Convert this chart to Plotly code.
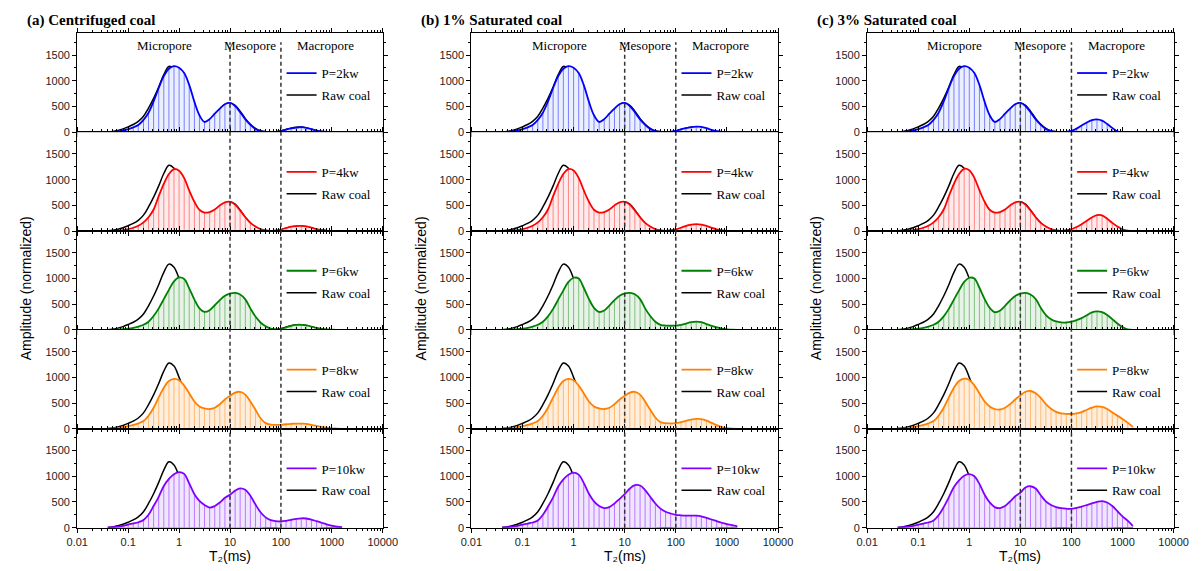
import math
import plotly.graph_objects as go

# ---------------- data ----------------
T2_MS = [0.0398, 0.0501, 0.0631, 0.0794, 0.1, 0.126, 0.158, 0.2, 0.251, 0.316,
         0.398, 0.501, 0.631, 0.794, 1.0, 1.26, 1.58, 2.0, 2.51, 3.16,
         3.98, 5.01, 6.31, 7.94, 10.0, 12.6, 15.8, 20.0, 25.1, 31.6,
         39.8, 50.1, 63.1, 79.4, 100, 126, 158, 200, 251, 316,
         398, 501, 631, 794, 1000, 1260, 1585]

RAW_COAL = [5, 15, 35, 65, 105, 150, 210, 310, 470, 660,
            880, 1120, 1280, 1220, 1000, 740, 480, 300, 210, 190,
            240, 340, 450, 540, 570, 525, 410, 265, 155, 75,
            28, 12, 8, 10, 25, 55, 80, 95, 100, 85,
            60, 30, 15, 6, 2, 0, 0]

# (a) Centrifuged coal
A_2KW = [3, 8, 18, 35, 60, 95, 140, 240, 380, 600,
         860, 1090, 1235, 1285, 1255, 1150, 920, 590, 330, 200,
         255, 360, 460, 545, 570, 510, 390, 250, 145, 64,
         22, 5, 2, 6, 25, 50, 75, 90, 98, 85,
         60, 30, 15, 6, 2, 1, 0]
A_4KW = [2, 5, 10, 20, 38, 65, 105, 170, 270, 420,
         680, 920, 1110, 1205, 1175, 1030, 790, 570, 415, 360,
         370, 420, 500, 560, 570, 515, 400, 270, 160, 90,
         40, 12, 3, 8, 30, 60, 85, 98, 102, 90,
         68, 40, 22, 10, 4, 1, 0]
A_6KW = [2, 4, 8, 14, 24, 40, 65, 100, 160, 270,
         420, 600, 780, 945, 1020, 990, 810, 590, 420, 350,
         385, 480, 580, 665, 705, 720, 690, 595, 420, 260,
         145, 70, 25, 10, 18, 50, 80, 98, 100, 88,
         65, 40, 22, 12, 5, 2, 0]
A_8KW = [3, 8, 15, 30, 50, 75, 105, 150, 255, 410,
         610, 800, 930, 972, 945, 840, 690, 530, 435, 395,
         385, 410, 480, 570, 640, 705, 718, 665, 530, 370,
         205, 110, 80, 75, 78, 88, 96, 102, 100, 94,
         75, 55, 38, 22, 10, 4, 0]
A_10KW = [3, 8, 18, 35, 60, 82, 105, 150, 250, 420,
          600, 810, 950, 1040, 1080, 1045, 860, 650, 520, 440,
          390, 420, 490, 580, 640, 720, 765, 735, 620, 450,
          300, 200, 145, 125, 120, 132, 150, 172, 182, 178,
          158, 125, 95, 62, 40, 20, 8]

# (b) 1% Saturated coal
B_2KW = [3, 8, 18, 35, 60, 95, 140, 240, 380, 600,
         860, 1090, 1235, 1285, 1255, 1150, 920, 590, 330, 200,
         255, 360, 460, 545, 570, 510, 390, 250, 145, 64,
         22, 5, 2, 6, 25, 55, 80, 100, 110, 105,
         80, 45, 20, 8, 3, 1, 0]
B_4KW = [2, 5, 10, 20, 38, 65, 105, 170, 270, 420,
         680, 920, 1110, 1205, 1180, 1035, 795, 570, 415, 360,
         370, 420, 500, 560, 570, 515, 400, 270, 160, 90,
         40, 12, 5, 15, 35, 65, 100, 125, 135, 125,
         100, 65, 35, 15, 5, 2, 0]
B_6KW = [2, 4, 8, 14, 24, 40, 65, 100, 160, 265,
         410, 590, 770, 935, 1015, 1000, 820, 600, 430, 350,
         380, 475, 580, 665, 710, 722, 695, 600, 420, 270,
         160, 100, 85, 82, 85, 100, 125, 150, 160, 150,
         115, 80, 50, 25, 12, 4, 0]
B_8KW = [3, 8, 15, 30, 50, 75, 105, 150, 255, 410,
         610, 800, 930, 972, 945, 840, 690, 530, 435, 395,
         385, 410, 480, 570, 640, 705, 718, 665, 530, 370,
         220, 130, 110, 105, 110, 130, 155, 180, 192, 188,
         160, 115, 70, 35, 12, 3, 0]
B_10KW = [3, 8, 18, 35, 60, 80, 100, 140, 250, 410,
          590, 800, 940, 1030, 1070, 1030, 870, 660, 510, 420,
          380, 400, 470, 560, 650, 760, 825, 820, 730, 600,
          470, 370, 310, 275, 250, 240, 233, 232, 232, 220,
          190, 158, 125, 95, 70, 48, 28]

# (c) 3% Saturated coal
C_2KW = [3, 8, 18, 35, 60, 95, 140, 240, 380, 600,
         860, 1090, 1235, 1285, 1255, 1150, 920, 590, 330, 200,
         255, 360, 460, 545, 570, 510, 390, 250, 145, 64,
         22, 5, 2, 6, 25, 70, 130, 190, 235, 250,
         225, 160, 85, 20, 3, 0, 0]
C_4KW = [2, 5, 10, 20, 38, 65, 105, 170, 270, 420,
         680, 920, 1110, 1210, 1185, 1035, 795, 570, 415, 360,
         370, 420, 500, 560, 570, 515, 400, 270, 160, 90,
         40, 12, 4, 12, 38, 80, 135, 200, 265, 310,
         305, 240, 160, 90, 35, 8, 0]
C_6KW = [2, 4, 8, 14, 24, 40, 65, 100, 160, 265,
         410, 590, 770, 935, 1015, 1000, 820, 600, 430, 345,
         375, 470, 575, 660, 705, 722, 690, 600, 430, 290,
         210, 165, 148, 145, 160, 190, 230, 285, 340, 362,
         345, 290, 210, 125, 55, 10, 0]
C_8KW = [3, 8, 15, 30, 50, 75, 105, 150, 255, 410,
         610, 800, 930, 975, 950, 845, 690, 530, 435, 385,
         375, 410, 480, 570, 650, 720, 735, 690, 600, 480,
         390, 330, 300, 290, 288, 300, 325, 370, 410, 435,
         425, 385, 320, 256, 190, 120, 40]
C_10KW = [3, 8, 18, 35, 58, 80, 100, 140, 240, 400,
          590, 790, 920, 1010, 1040, 1000, 850, 640, 490, 400,
          380, 420, 510, 610, 680, 780, 805, 760, 630, 510,
          440, 400, 378, 368, 365, 385, 410, 440, 470, 500,
          517, 490, 420, 320, 220, 135, 35]

SERIES_NAMES = ["P=2kw", "P=4kw", "P=6kw", "P=8kw", "P=10kw"]
COLUMN_TITLES = ["(a) Centrifuged coal", "(b) 1% Saturated coal", "(c) 3% Saturated coal"]
COLUMN_DATA = [[A_2KW, A_4KW, A_6KW, A_8KW, A_10KW],
               [B_2KW, B_4KW, B_6KW, B_8KW, B_10KW],
               [C_2KW, C_4KW, C_6KW, C_8KW, C_10KW]]
PORE_LABELS = ["Micropore", "Mesopore", "Macropore"]
PORE_LABEL_X = [0.52, 24.4, 760]
PORE_BOUNDS = [10, 100]
X_TICKS = [0.01, 0.1, 1, 10, 100, 1000, 10000]
X_TICK_TEXT = ["0.01", "0.1", "1", "10", "100", "1000", "10000"]
Y_TICKS = [0, 500, 1000, 1500]

# ---------------- styles ----------------
LINE_COLORS = ["#0000FF", "#FF0000", "#008000", "#FF8000", "#8000FF"]
FILL_COLORS = ["#EBF0FF", "#FFEBEB", "#E6F3E6", "#FFEEDC", "#F1E6FF"]
STEM_COLORS = ["rgba(0,0,255,0.6)", "rgba(255,0,0,0.55)", "rgba(0,128,0,0.55)",
               "rgba(255,128,0,0.6)", "rgba(128,0,255,0.6)"]

W, H = 1203, 571
COL_L = [67.7, 470.5, 875.0]
COL_R = [380.0, 784.0, 1188.3]
ROW_TOP = [33.7, 133.6, 233.5, 333.4, 433.3]
ROW_H = 99.95
Y_MAX = 1923
SANS = "Liberation Sans, Arial, sans-serif"
SERIF = "Liberation Serif, Times New Roman, serif"

minor_x = [m * 10 ** e for e in range(-2, 4) for m in range(2, 10)]

fig = go.Figure()
layout = {}
annotations = []
shapes = []

for c in range(3):
    for r in range(5):
        k = c * 5 + r + 1
        xr = "x" if k == 1 else f"x{k}"
        yr = "y" if k == 1 else f"y{k}"
        lg = "legend" if k == 1 else f"legend{k}"
        vals = COLUMN_DATA[c][r]

        fig.add_trace(go.Scatter(x=T2_MS, y=RAW_COAL, mode="lines", name="Raw coal",
                                 line=dict(color="black", width=1.5, shape="spline", smoothing=1.0),
                                 xaxis=xr, yaxis=yr, legend=lg, legendrank=2,
                                 legendgroup=f"raw{k}"))
        fig.add_trace(go.Scatter(x=T2_MS, y=vals, mode="lines", fill="tozeroy",
                                 fillcolor=FILL_COLORS[r],
                                 line=dict(width=0, shape="spline", smoothing=1.0),
                                 xaxis=xr, yaxis=yr, showlegend=False, hoverinfo="skip"))
        sx, sy = [], []
        for t, v in zip(T2_MS, vals):
            sx += [t, t, None]
            sy += [0, v, None]
        sx += [T2_MS[0], T2_MS[-1]]
        sy += [0, 0]
        fig.add_trace(go.Scatter(x=sx, y=sy, mode="lines",
                                 line=dict(color=STEM_COLORS[r], width=0.8),
                                 xaxis=xr, yaxis=yr, showlegend=False, hoverinfo="skip"))
        fig.add_trace(go.Scatter(x=T2_MS, y=vals, mode="lines", name=SERIES_NAMES[r],
                                 line=dict(color=LINE_COLORS[r], width=1.8, shape="spline", smoothing=1.0),
                                 xaxis=xr, yaxis=yr, legend=lg, legendrank=1,
                                 legendgroup=f"p{k}"))

        xa = "xaxis" if k == 1 else f"xaxis{k}"
        ya = "yaxis" if k == 1 else f"yaxis{k}"
        layout[xa] = dict(domain=[COL_L[c] / W, COL_R[c] / W], anchor=yr, type="log",
                          range=[-2, 4], tickvals=X_TICKS, ticktext=X_TICK_TEXT,
                          showticklabels=(r == 4), ticks="outside", ticklen=4, tickwidth=1,
                          tickcolor="black", showline=True, linecolor="black", linewidth=1.2,
                          mirror="ticks", showgrid=False, zeroline=False,
                          minor=dict(tickvals=minor_x, ticks="outside", ticklen=2,
                                     tickcolor="black", showgrid=False),
                          tickfont=dict(family=SANS, size=11, color="#222"))
        top = ROW_TOP[r]
        layout[ya] = dict(domain=[1 - (top + ROW_H) / H, 1 - top / H], anchor=xr,
                          range=[0, Y_MAX], tickvals=Y_TICKS, ticks="outside", ticklen=4,
                          tickwidth=1, tickcolor="black", showline=True, linecolor="black",
                          linewidth=1.2, mirror="ticks", showgrid=False, zeroline=False,
                          minor=dict(tickvals=[250, 750, 1250, 1750], ticks="outside",
                                     ticklen=2, tickcolor="black", showgrid=False),
                          tickfont=dict(family=SANS, size=11, color="#222"))
        leg_x = (COL_L[c] + 0.688 * (COL_R[c] - COL_L[c]) - 6) / W
        layout[lg] = dict(x=leg_x, y=1 - (top + 25.0) / H, xanchor="left", yanchor="top",
                          bgcolor="rgba(0,0,0,0)", borderwidth=0, tracegroupgap=2,
                          font=dict(family=SERIF, size=13, color="black"))

        if r == 0:
            for lbl, lx in zip(PORE_LABELS, PORE_LABEL_X):
                annotations.append(dict(text=lbl, x=math.log10(lx), y=1680, xref=xr, yref=yr,
                                        showarrow=False, font=dict(family=SERIF, size=13, color="black")))
            for b in PORE_BOUNDS:
                shapes.append(dict(type="line", xref=xr, yref="paper", x0=b, x1=b,
                                   y0=1 - (ROW_TOP[4] + ROW_H) / H, y1=1 - 42.7 / H,
                                   line=dict(color="#333", width=1.5, dash="4px,3px")))

    annotations.append(dict(text=COLUMN_TITLES[c], xref="paper", yref="paper",
                            x=(COL_L[c] - 53) / W, y=1 - 21 / H, xanchor="left", yanchor="middle",
                            showarrow=False,
                            font=dict(family=SERIF, size=15, color="black", weight="bold")))
    annotations.append(dict(text="Amplitude (normalized)", xref="paper", yref="paper",
                            x=(COL_L[c] - 52) / W, y=1 - 291 / H, textangle=-90,
                            xanchor="center", yanchor="middle", showarrow=False,
                            font=dict(family=SANS, size=14, color="black")))
    annotations.append(dict(text="T\u2082(ms)", xref="paper", yref="paper",
                            x=(COL_L[c] + COL_R[c]) / 2 / W, y=1 - 562 / H,
                            xanchor="center", yanchor="middle", showarrow=False,
                            font=dict(family=SANS, size=14, color="black")))

fig.update_layout(**layout)
fig.update_layout(width=W, height=H, margin=dict(l=0, r=0, t=0, b=0),
                  paper_bgcolor="white", plot_bgcolor="white",
                  annotations=annotations, shapes=shapes)
fig.write_html("out.html")
